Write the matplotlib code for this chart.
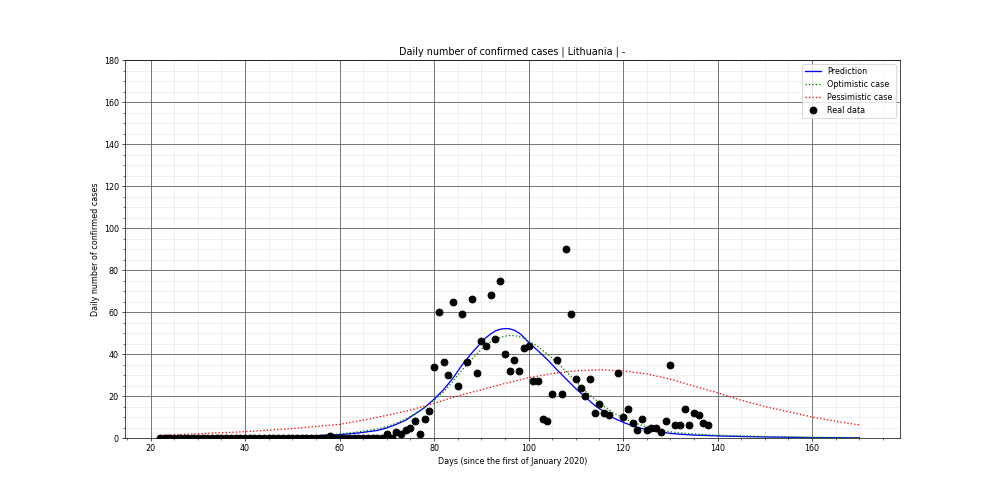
import numpy as np
import matplotlib
matplotlib.use('Agg')
from matplotlib import pyplot as plt

plt.rcParams['font.size'] = 9.2

# real data (days since 1 Jan 2020, daily confirmed cases)
days = [22, 23, 24, 25, 26, 27, 28, 29, 30, 31, 32, 33, 34, 35, 36, 37, 38, 39,
        40, 41, 42, 43, 44, 45, 46, 47, 48, 49, 50, 51, 52, 53, 54, 55, 56, 57,
        58, 59, 60, 61, 62, 63, 64, 65, 66, 67, 68, 69,
        70, 71, 72, 73, 74, 75, 76, 77, 78, 79, 80, 81, 82, 83, 84, 85, 86, 87,
        88, 89, 90, 91, 92, 93, 94, 95, 96, 97, 98, 99, 100, 101, 102, 103, 104,
        105, 106, 107, 108, 109, 110, 111, 112, 113, 114, 115, 116, 117, 119,
        120, 121, 122, 123, 124, 125, 126, 127, 128, 129, 130, 131, 132, 133,
        134, 135, 136, 137, 138]
cases = [0, 0, 0, 0, 0, 0, 0, 0, 0, 0, 0, 0, 0, 0, 0, 0, 0, 0,
         0, 0, 0, 0, 0, 0, 0, 0, 0, 0, 0, 0, 0, 0, 0, 0, 0, 0,
         1, 0, 0, 0, 0, 0, 0, 0, 0, 0, 0, 0,
         2, 0, 3, 2, 4, 5, 8, 2, 9, 13, 34, 60, 36, 30, 65, 25, 59, 36,
         66, 31, 46, 44, 68, 47, 75, 40, 32, 37, 32, 43, 44, 27, 27, 9, 8,
         21, 37, 21, 90, 59, 28, 24, 20, 28, 12, 16, 12, 11, 31,
         10, 14, 7, 4, 9, 4, 5, 5, 3, 8, 35, 6, 6, 14,
         6, 12, 11, 7, 6]

# model curves
pred_x = [22, 30, 40, 50, 55, 60, 64, 68, 70, 72, 74, 76, 78, 80, 82, 84, 86,
          88, 90, 91, 92, 93, 94, 95, 96, 97, 98, 99, 100, 102, 104, 106, 108,
          110, 112, 114, 116, 118, 120, 122, 124, 126, 128, 130, 132, 135, 140,
          145, 150, 160, 170]
pred_y = [0.1, 0.2, 0.4, 0.8, 1.1, 1.6, 2.4, 3.6, 4.8, 6.5, 8.5, 11.5, 14.5,
          18.5, 23, 28.5, 35, 40.5, 45.5, 47.8, 49.6, 51, 51.8, 52.1, 52,
          51.3, 50, 48, 45.5, 41.5, 37.3, 32.5, 28, 23.5, 19.5, 15.5, 12.5,
          9.5, 7.5, 5.8, 4.5, 3.5, 2.8, 2.2, 1.8, 1.4, 1.0, 0.7, 0.5, 0.2, 0.1]

opt_x = [22, 30, 40, 50, 55, 60, 64, 68, 70, 72, 74, 76, 78, 80, 82, 84, 86,
         88, 90, 92, 93, 94, 95, 96, 97, 98, 99, 100, 102, 104, 106, 108, 110,
         112, 114, 116, 118, 120, 122, 124, 126, 128, 130, 132, 135, 140, 145,
         150, 160, 170]
opt_y = [0.1, 0.2, 0.3, 0.7, 1.1, 1.9, 2.9, 4.3, 5.4, 7, 9, 11.5, 14.5, 18,
         22, 27, 32.5, 37.5, 42.3, 45.8, 47, 47.9, 48.5, 48.8, 48.8, 48.3,
         47.5, 46.3, 43.5, 40, 36, 31.5, 27, 22.5, 18.5, 15, 12, 9.5, 7.5, 6,
         4.7, 3.7, 3, 2.4, 1.9, 1.3, 1.0, 0.7, 0.3, 0.15]

pes_x = [22, 30, 40, 50, 60, 65, 70, 75, 80, 85, 90, 95, 100, 105, 110, 115,
         120, 125, 130, 135, 140, 145, 150, 155, 160, 165, 170]
pes_y = [1.2, 2, 3, 4.5, 6.5, 8.5, 10.8, 13.3, 16.5, 20, 23, 26, 28.7, 30.7,
         32, 32.5, 32, 30.5, 28, 24.7, 21.5, 18, 15, 12.5, 10, 8, 6.2]

fig = plt.figure(figsize=(16, 8), dpi=62.5)
ax = fig.add_subplot(111)
plt.subplots_adjust(left=0.125, right=0.9, bottom=0.124, top=0.88)

ax.plot(pred_x, pred_y, 'b-', label='Prediction')
ax.plot(opt_x, opt_y, 'g:', label='Optimistic case')
ax.plot(pes_x, pes_y, 'r:', label='Pessimistic case')
ax.plot(days, cases, 'ko', markersize=8, label='Real data', zorder=3)

ax.set_ylim(0, 180)
ax.set_xlim(14.6, 178.6)
ax.xaxis.set_minor_locator(matplotlib.ticker.MultipleLocator(5))
ax.yaxis.set_minor_locator(matplotlib.ticker.MultipleLocator(5))
ax.grid(which='major', color='#666666', linestyle='-', linewidth=1)
ax.grid(which='minor', color='#999999', linestyle='-', alpha=0.2)

ax.set_title('Daily number of confirmed cases | Lithuania | -')
ax.set_xlabel('Days (since the first of January 2020)')
ax.set_ylabel('Daily number of confirmed cases')
ax.legend(loc='upper right')

plt.savefig('out.png', dpi=62.5)
